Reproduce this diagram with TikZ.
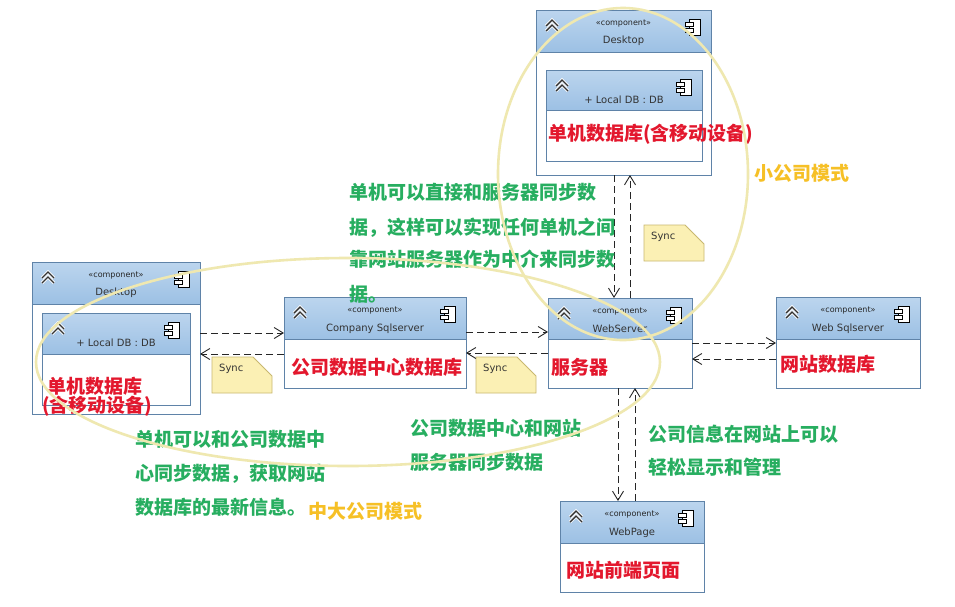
\documentclass[tikz,border=0pt]{standalone}
\usepackage{fontspec}
\setmainfont{DejaVu Sans}
\newfontfamily\cjk{Noto Sans CJK SC}
\usetikzlibrary{arrows.meta}
\definecolor{headtop}{HTML}{BCD5EE}
\definecolor{headbot}{HTML}{9CC0E4}
\definecolor{boxline}{HTML}{5F83A8}
\definecolor{notefill}{HTML}{FBF0B4}
\definecolor{noteline}{HTML}{C9B870}
\definecolor{ringline}{HTML}{EFE8B0}
\definecolor{greentext}{HTML}{27AE60}
\definecolor{redtext}{HTML}{E3172D}
\definecolor{goldtext}{HTML}{F6C026}
\tikzset{
  compbox/.style={draw=boxline,fill=white,line width=1pt,inner sep=0pt,outer sep=0pt,anchor=north west},
  comphead/.style={draw=boxline,top color=headtop,bottom color=headbot,line width=1pt,inner sep=0pt,outer sep=0pt,anchor=north west},
  stereo/.style={font=\fontsize{8}{9}\selectfont,text=black!85,inner sep=0pt},
  comptitle/.style={font=\fontsize{10}{11}\selectfont,text=black!80,inner sep=0pt},
  synctext/.style={font=\fontsize{10}{11}\selectfont,text=black!80,inner sep=0pt,anchor=west},
  sync/.style={draw=black!85,line width=0.9pt,dash pattern=on 7pt off 4pt,-{Straight Barb[length=9pt,width=11pt]}},
  notepoly/.style={draw=noteline,fill=notefill,line width=0.8pt},
  ring/.style={draw=ringline,line width=2.6pt},
  greenlab/.style={font=\cjk\bfseries\fontsize{19}{20}\selectfont,text=greentext,inner sep=0pt,anchor=west},
  redlab/.style={font=\cjk\bfseries\fontsize{19}{20}\selectfont,text=redtext,inner sep=0pt,anchor=west},
  goldlab/.style={font=\cjk\bfseries\fontsize{19}{20}\selectfont,text=goldtext,inner sep=0pt,anchor=west},
  chevrons/.pic={
    \draw[white,line width=3pt] (-6,0) -- (0,-6) -- (6,0);
    \draw[white,line width=3pt] (-6,5) -- (0,-1) -- (6,5);
    \draw[black!80,line width=1.4pt] (-6,0) -- (0,-6) -- (6,0);
    \draw[black!80,line width=1.4pt] (-6,5) -- (0,-1) -- (6,5);
  },
  compicon/.pic={
    \draw[black,fill=white,line width=1pt] (-4,-8) rectangle (7,8);
    \draw[black,fill=white,line width=1pt] (-8,-4.5) rectangle (0,-0.5);
    \draw[black,fill=white,line width=1pt] (-8,1.5) rectangle (0,5.5);
  }
}
\begin{document}
\begin{tikzpicture}[x=1pt,y=-1pt]
  \useasboundingbox[fill=white] (0,0) rectangle (955,606);
  % component boxes
  \foreach \nm/\x/\y/\w/\h/\hh/\ster/\ttl/\ty in {
      desktop/536/10/175/165/42/yes/Desktop/31,
      localtop/546/70/156/91/40//+ Local DB : DB/30,
      deskleft/32/262/168/152/42/yes/Desktop/31,
      localleft/42/313/148/92/41//+ Local DB : DB/30,
      company/284/297/182/91/42/yes/Company Sqlserver/32,
      webserver/548/298/144/90/41/yes/WebServer/31,
      websql/776/297/144/91/42/yes/Web Sqlserver/32,
      webpage/560/501/144/91/42/yes/WebPage/32
    } {
      \node[compbox,minimum width=\w pt,minimum height=\h pt] (\nm) at (\x,\y) {};
      \node[comphead,minimum width=\w pt,minimum height=\hh pt] (\nm-head) at (\x,\y) {};
      \ifx\ster\empty\else                  % inner boxes have no stereotype
        \node[stereo] (\nm-ster) at ([yshift=-14pt]\nm.north) {«component»};
      \fi
      \node[comptitle] (\nm-title) at ([yshift=-\ty pt]\nm.north) {\ttl};
      \pic at ([shift={(16pt,-16pt)}]\nm.north west) {chevrons};
      \pic at ([shift={(-18pt,-17pt)}]\nm.north east) {compicon};
    };
  % sync notes
  \foreach \nm/\x/\y in {noteright/644/225, noteleft/212/357, notemid/476/357} {
      \draw[notepoly] (\x,\y) -- ++(41,0) -- ++(19,19) -- ++(0,17) -- ++(-60,0) -- cycle;
      \node[synctext] (\nm) at (\x+7,\y+12) {Sync};
    };
  % connectors
  \draw[sync] ([yshift=-71pt]deskleft.north east) -- ([yshift=-36pt]company.north west);
  \draw[sync] ([yshift=-57pt]company.north west) -- ([yshift=-92pt]deskleft.north east);
  \draw[sync] ([yshift=-35pt]company.north east) -- ([yshift=-34pt]webserver.north west);
  \draw[sync] ([yshift=-55pt]webserver.north west) -- ([yshift=-56pt]company.north east);
  \draw[sync] ([yshift=-45pt]webserver.north east) -- ([yshift=-46pt]websql.north west);
  \draw[sync] ([yshift=-62pt]websql.north west) -- ([yshift=-61pt]webserver.north east);
  \draw[sync] ([xshift=78pt]desktop.south west) -- ([xshift=66pt]webserver.north west);
  \draw[sync] ([xshift=82pt]webserver.north west) -- ([xshift=94pt]desktop.south west);
  \draw[sync] ([xshift=70pt]webserver.south west) -- ([xshift=58pt]webpage.north west);
  \draw[sync] ([xshift=75pt]webpage.north west) -- ([xshift=87pt]webserver.south west);
  % red labels
  \node[redlab] (lbdesk) at (548,134) {单机数据库(含移动设备)};
  \node[redlab] (lbserver) at (551,367) {服务器};
  \node[redlab] (lbcompany) at (291,367) {公司数据中心数据库};
  \node[redlab] (lbwebsql) at (780,364) {网站数据库};
  \node[redlab] (lbpage) at (566,570) {网站前端页面};
  \node[redlab] (lbleft) at (47,386) {单机数据库};
  \node[redlab] (lbleftb) at (42,406) {(含移动设备)};
  % green labels
  \node[greenlab] (tra) at (349,192) {单机可以直接和服务器同步数};
  \node[greenlab] (trb) at (349,228) {据，这样可以实现任何单机之间};
  \node[greenlab] (trc) at (349,259) {靠网站服务器作为中介来同步数};
  \node[greenlab] (trd) at (349,294) {据。};
  \node[greenlab] (bla) at (135,439) {单机可以和公司数据中};
  \node[greenlab] (blb) at (135,474) {心同步数据，获取网站};
  \node[greenlab] (blc) at (135,507) {数据库的最新信息。};
  \node[greenlab] (bma) at (410,428) {公司数据中心和网站};
  \node[greenlab] (bmb) at (410,462) {服务器同步数据};
  \node[greenlab] (bra) at (648,434) {公司信息在网站上可以};
  \node[greenlab] (brb) at (648,467) {轻松显示和管理};
  % mode labels
  \node[goldlab] (small) at (754,173) {小公司模式};
  \node[goldlab] (large) at (308,511) {中大公司模式};
  % rings
  \draw[ring] (623,174) ellipse (125 and 166);
  \draw[ring] (348,362) ellipse (312 and 104);
\end{tikzpicture}
\end{document}
